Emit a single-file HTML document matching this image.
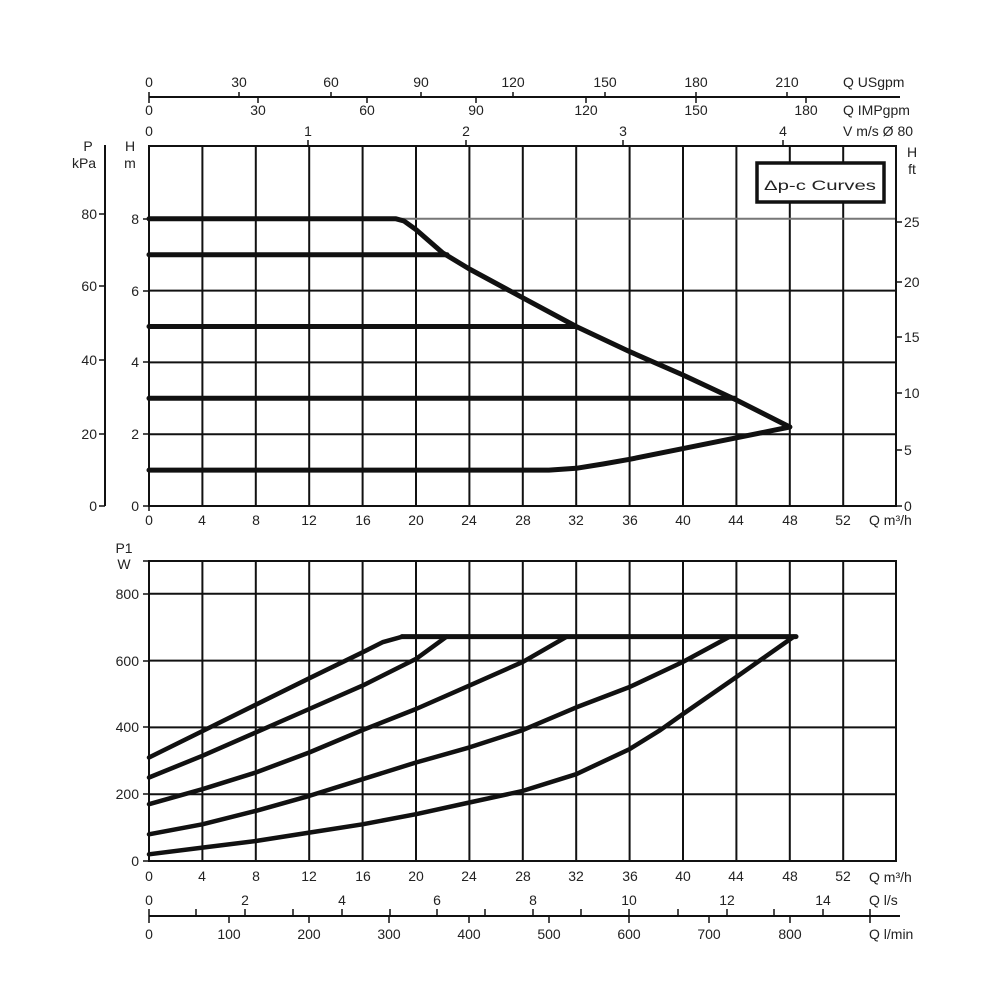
<!DOCTYPE html>
<html><head><meta charset="utf-8"><style>
html,body{margin:0;padding:0;background:#fff}
svg{display:block}
text{font-family:"Liberation Sans",sans-serif;font-size:14px;fill:#222}
</style></head><body>
<svg width="1000" height="1000" viewBox="0 0 1000 1000" xmlns="http://www.w3.org/2000/svg">
<g stroke="#111" fill="none">
<!-- top plot grid -->
<g stroke-width="2">
<line x1="202.4" y1="146" x2="202.4" y2="506"/><line x1="255.8" y1="146" x2="255.8" y2="506"/>
<line x1="309.2" y1="146" x2="309.2" y2="506"/><line x1="362.6" y1="146" x2="362.6" y2="506"/>
<line x1="416" y1="146" x2="416" y2="506"/><line x1="469.4" y1="146" x2="469.4" y2="506"/>
<line x1="522.8" y1="146" x2="522.8" y2="506"/><line x1="576.2" y1="146" x2="576.2" y2="506"/>
<line x1="629.6" y1="146" x2="629.6" y2="506"/><line x1="683" y1="146" x2="683" y2="506"/>
<line x1="736.4" y1="146" x2="736.4" y2="506"/><line x1="789.8" y1="146" x2="789.8" y2="506"/>
<line x1="843.2" y1="146" x2="843.2" y2="506"/>
<line x1="149" y1="434.2" x2="896" y2="434.2"/><line x1="149" y1="362.4" x2="896" y2="362.4"/>
<line x1="149" y1="290.6" x2="896" y2="290.6"/>
</g>
<line x1="149" y1="218.8" x2="896" y2="218.8" stroke="#777" stroke-width="2"/>
<rect x="149" y="146" width="747" height="360" stroke-width="2"/>
<!-- kPa axis -->
<line x1="105" y1="145" x2="105" y2="506" stroke-width="2"/>
<g stroke-width="1.5"><line x1="99" y1="506" x2="105" y2="506"/><line x1="99" y1="434" x2="105" y2="434"/><line x1="99" y1="360" x2="105" y2="360"/><line x1="99" y1="286" x2="105" y2="286"/><line x1="99" y1="214" x2="105" y2="214"/>
<line x1="143" y1="434" x2="149" y2="434"/><line x1="143" y1="362" x2="149" y2="362"/><line x1="143" y1="291" x2="149" y2="291"/><line x1="143" y1="219" x2="149" y2="219"/><line x1="143" y1="506" x2="149" y2="506"/>
<line x1="896" y1="450" x2="902" y2="450"/><line x1="896" y1="393" x2="902" y2="393"/><line x1="896" y1="337" x2="902" y2="337"/><line x1="896" y1="282" x2="902" y2="282"/><line x1="896" y1="222" x2="902" y2="222"/><line x1="896" y1="506" x2="902" y2="506"/>
<line x1="149" y1="506" x2="149" y2="511"/>
</g>
<!-- top curves -->
<g stroke-width="5" stroke-linejoin="round" stroke-linecap="round">
<polyline points="149,218.8 396,218.8 404,221 416,229.6 442.7,252.9 469.4,269 522.8,297.8 576.2,326.5 629.6,351.6 683,375 736.4,400 789.8,427"/>
<line x1="149" y1="254.7" x2="447" y2="254.7"/>
<line x1="149" y1="326.5" x2="576" y2="326.5"/>
<line x1="149" y1="398.3" x2="735" y2="398.3"/>
<polyline points="149,470.1 549,470.1 576.2,468.3 603,464 629.6,459.3 683,448.6 736.4,437.8 789.8,427"/>
</g>
<!-- legend box -->
<rect x="757" y="163" width="127" height="39" stroke-width="3.5" fill="#fff"/>
<!-- top axes -->
<line x1="149" y1="97" x2="900" y2="97" stroke-width="2"/>
<g stroke-width="1.5">
<line x1="149" y1="92" x2="149" y2="103"/><line x1="239" y1="92" x2="239" y2="97"/><line x1="331" y1="92" x2="331" y2="97"/><line x1="421" y1="92" x2="421" y2="97"/><line x1="513" y1="92" x2="513" y2="97"/><line x1="605" y1="92" x2="605" y2="97"/><line x1="696" y1="92" x2="696" y2="97"/><line x1="787" y1="92" x2="787" y2="97"/>
<line x1="258" y1="97" x2="258" y2="103"/><line x1="367" y1="97" x2="367" y2="103"/><line x1="476" y1="97" x2="476" y2="103"/><line x1="586" y1="97" x2="586" y2="103"/><line x1="696" y1="97" x2="696" y2="103"/><line x1="806" y1="97" x2="806" y2="103"/>
<line x1="308" y1="140" x2="308" y2="146"/><line x1="466" y1="140" x2="466" y2="146"/><line x1="623" y1="140" x2="623" y2="146"/><line x1="783" y1="140" x2="783" y2="146"/>
</g>
<!-- bottom plot grid -->
<g stroke-width="2">
<line x1="202.4" y1="561" x2="202.4" y2="861"/><line x1="255.8" y1="561" x2="255.8" y2="861"/>
<line x1="309.2" y1="561" x2="309.2" y2="861"/><line x1="362.6" y1="561" x2="362.6" y2="861"/>
<line x1="416" y1="561" x2="416" y2="861"/><line x1="469.4" y1="561" x2="469.4" y2="861"/>
<line x1="522.8" y1="561" x2="522.8" y2="861"/><line x1="576.2" y1="561" x2="576.2" y2="861"/>
<line x1="629.6" y1="561" x2="629.6" y2="861"/><line x1="683" y1="561" x2="683" y2="861"/>
<line x1="736.4" y1="561" x2="736.4" y2="861"/><line x1="789.8" y1="561" x2="789.8" y2="861"/>
<line x1="843.2" y1="561" x2="843.2" y2="861"/>
<line x1="149" y1="794.2" x2="896" y2="794.2"/><line x1="149" y1="727.4" x2="896" y2="727.4"/>
<line x1="149" y1="660.6" x2="896" y2="660.6"/><line x1="149" y1="593.8" x2="896" y2="593.8"/>
</g>
<rect x="149" y="561" width="747" height="300" stroke-width="2"/>
<g stroke-width="1.5"><line x1="143" y1="861" x2="149" y2="861"/><line x1="143" y1="794" x2="149" y2="794"/><line x1="143" y1="727" x2="149" y2="727"/><line x1="143" y1="661" x2="149" y2="661"/><line x1="143" y1="594" x2="149" y2="594"/><line x1="143" y1="561" x2="149" y2="561"/></g>
<g stroke-width="4.5" stroke-linejoin="round" stroke-linecap="round">
<line x1="402" y1="636.6" x2="796" y2="636.6" stroke-width="5"/>
<polyline points="149,757.5 202.4,731.1 255.8,704.7 309.2,678.3 362.6,652.3 382.6,642.2 402.7,636.6"/>
<polyline points="149,777.5 202.4,755.8 255.8,732.4 309.2,709 362.6,685.6 416,658.9 446.7,636.6"/>
<polyline points="149,804.2 202.4,789.2 255.8,772.5 309.2,752.5 362.6,730.1 416,709 469.4,685.6 522.8,661.9 566.9,636.6"/>
<polyline points="149,834.3 202.4,824.3 255.8,810.9 309.2,795.9 362.6,779.2 416,762.5 469.4,747.4 522.8,730.1 576.2,707.4 629.6,687 683,661.9 729.7,636.6"/>
<polyline points="149,854.3 202.4,847.6 255.8,841 309.2,832.6 362.6,824.3 416,814.2 469.4,802.5 522.8,790.9 576.2,774.2 629.6,749.1 660.3,730.1 683,714 736.4,677 793.8,636.6"/>
</g>
<!-- bottom axes -->
<line x1="149" y1="916" x2="900" y2="916" stroke-width="2"/>
<g stroke-width="1.5">
<line x1="149" y1="909" x2="149" y2="923"/>
<line x1="196" y1="909" x2="196" y2="916"/><line x1="245" y1="909" x2="245" y2="916"/><line x1="293" y1="909" x2="293" y2="916"/><line x1="342" y1="909" x2="342" y2="916"/><line x1="390" y1="909" x2="390" y2="916"/><line x1="437" y1="909" x2="437" y2="916"/><line x1="485" y1="909" x2="485" y2="916"/><line x1="533" y1="909" x2="533" y2="916"/><line x1="581" y1="909" x2="581" y2="916"/><line x1="629" y1="909" x2="629" y2="916"/><line x1="678" y1="909" x2="678" y2="916"/><line x1="727" y1="909" x2="727" y2="916"/><line x1="774" y1="909" x2="774" y2="916"/><line x1="823" y1="909" x2="823" y2="916"/><line x1="870" y1="909" x2="870" y2="923"/>
<line x1="229" y1="916" x2="229" y2="923"/><line x1="309" y1="916" x2="309" y2="923"/><line x1="389" y1="916" x2="389" y2="923"/><line x1="469" y1="916" x2="469" y2="923"/><line x1="549" y1="916" x2="549" y2="923"/><line x1="629" y1="916" x2="629" y2="923"/><line x1="709" y1="916" x2="709" y2="923"/><line x1="790" y1="916" x2="790" y2="923"/>
</g>
</g>
<!-- text -->
<g text-anchor="middle">
<text x="149" y="87">0</text><text x="239" y="87">30</text><text x="331" y="87">60</text><text x="421" y="87">90</text><text x="513" y="87">120</text><text x="605" y="87">150</text><text x="696" y="87">180</text><text x="787" y="87">210</text>
<text x="149" y="115">0</text><text x="258" y="115">30</text><text x="367" y="115">60</text><text x="476" y="115">90</text><text x="586" y="115">120</text><text x="696" y="115">150</text><text x="806" y="115">180</text>
<text x="149" y="136">0</text><text x="308" y="136">1</text><text x="466" y="136">2</text><text x="623" y="136">3</text><text x="783" y="136">4</text>
<g>
<text x="149" y="525">0</text><text x="202" y="525">4</text><text x="256" y="525">8</text><text x="309" y="525">12</text><text x="363" y="525">16</text><text x="416" y="525">20</text><text x="469" y="525">24</text><text x="523" y="525">28</text><text x="576" y="525">32</text><text x="630" y="525">36</text><text x="683" y="525">40</text><text x="736" y="525">44</text><text x="790" y="525">48</text><text x="843" y="525">52</text>
</g>
<g>
<text x="149" y="881">0</text><text x="202" y="881">4</text><text x="256" y="881">8</text><text x="309" y="881">12</text><text x="363" y="881">16</text><text x="416" y="881">20</text><text x="469" y="881">24</text><text x="523" y="881">28</text><text x="576" y="881">32</text><text x="630" y="881">36</text><text x="683" y="881">40</text><text x="736" y="881">44</text><text x="790" y="881">48</text><text x="843" y="881">52</text>
</g>
<text x="149" y="905">0</text><text x="245" y="905">2</text><text x="342" y="905">4</text><text x="437" y="905">6</text><text x="533" y="905">8</text><text x="629" y="905">10</text><text x="727" y="905">12</text><text x="823" y="905">14</text>
<text x="149" y="939">0</text><text x="229" y="939">100</text><text x="309" y="939">200</text><text x="389" y="939">300</text><text x="469" y="939">400</text><text x="549" y="939">500</text><text x="629" y="939">600</text><text x="709" y="939">700</text><text x="790" y="939">800</text>
<text x="88" y="151">P</text><text x="84" y="168">kPa</text>
<text x="130" y="151">H</text><text x="130" y="168">m</text>
<text x="912" y="157">H</text><text x="912" y="174">ft</text>
<text x="124" y="553">P1</text><text x="124" y="569" font-size="16">W</text>
</g>
<g text-anchor="end">
<text x="97" y="219">80</text><text x="97" y="291">60</text><text x="97" y="365">40</text><text x="97" y="439">20</text><text x="97" y="511">0</text>
<text x="139" y="224">8</text><text x="139" y="296">6</text><text x="139" y="367">4</text><text x="139" y="439">2</text><text x="139" y="511">0</text>
<text x="139" y="599">800</text><text x="139" y="666">600</text><text x="139" y="732">400</text><text x="139" y="799">200</text><text x="139" y="866">0</text>
</g>
<g>
<text x="904" y="227">25</text><text x="904" y="287">20</text><text x="904" y="342">15</text><text x="904" y="398">10</text><text x="904" y="455">5</text><text x="904" y="511">0</text>
<text x="843" y="87">Q USgpm</text><text x="843" y="115">Q IMPgpm</text><text x="843" y="136">V m/s Ø 80</text>
<text x="869" y="525">Q m³/h</text><text x="869" y="882">Q m³/h</text>
<text x="869" y="905">Q l/s</text><text x="869" y="939">Q l/min</text>
<text x="764" y="190" font-size="19" textLength="112" lengthAdjust="spacingAndGlyphs">Δp-c Curves</text>
</g>
</svg>
</body></html>
